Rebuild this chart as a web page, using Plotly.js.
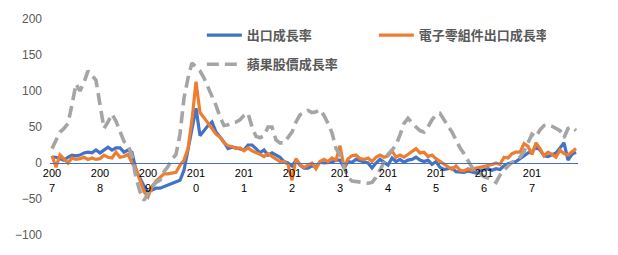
<!DOCTYPE html>
<html>
<head>
<meta charset="utf-8">
<script src="https://cdn.plot.ly/plotly-3.0.1.min.js"></script>
<style>html,body{margin:0;padding:0;background:#fff;}#chart{width:618px;height:255px;}</style>
</head>
<body>
<div id="chart"></div>
<script>
// Monthly series, Jan 2007 - Dec 2017 (YoY growth, %)
const exportGrowth = [
  8, 8, 6, 4, 8, 11, 10, 11, 14, 15, 14, 18,
  14, 18, 22, 18, 21, 21, 15, 18, 15, -10, -22, -32,
  -40, -38, -35, -35, -33, -30, -28, -26, -24, -10, 20, 49,
  76, 38, 45, 52, 57, 43, 36, 29, 20, 22, 21, 20,
  18, 25, 25, 20, 14, 18, 11, 14, 11, 8, 2, 0,
  -4, 4, -3, -7, -7, -4, -5, 1, 0, 1, 1, 4,
  4, -7, 2, 1, 5, 3, 1, 0, -7, 0, 5, 1,
  -3, 7, 2, 5, 1, 4, 5, 8, 4, 2, 4, -2,
  2, -6, -9, -8, -7, -12, -12, -13, -11, -12, -14, -11,
  -9, -8, -10, -8, -9, -4, -1, 0, 2, 6, 10, 14,
  16, 22, 18, 10, 9, 12, 14, 21, 28, 4, 12, 15
];
const electronicsExportGrowth = [
  10, -6, 11, 5, 0, 7, 5, 6, 8, 5, 7, 5,
  6, 11, 8, 7, 15, 8, 9, 12, 0, -8, -25, -40,
  -47, -33, -25, -20, -15, -15, -14, -13, -3, 4, 20, 60,
  113, 70, 63, 55, 48, 40, 36, 28, 24, 23, 20, 21,
  17, 21, 17, 15, 12, 9, 13, 9, 5, 2, 2, -2,
  -24, 6, -2, -6, -3, 0, -8, 2, 5, 2, 7, 4,
  24, -6, 6, 10, 11, 6, 5, 7, 2, 8, 11, 8,
  10, 17, 8, 11, 8, 12, 16, 20, 14, 15, 9, 11,
  6, 2, -2, -6, -9, -4, -10, -11, -8, -10, -7, -6,
  -5, -3, -2, 0, -2, 8, 7, 13, 15, 15, 27, 23,
  12, 28, 20, 10, 15, 12, 8, 18, 13, 11, 15, 20
];
const appleStockGrowth = [
  20, 33, 43, 48, 55, 81, 110, 100, 112, 128, 122, 115,
  81, 48, 57, 68, 58, 45, 30, 25, 10, -20, -40, -52,
  -42, -33, -27, -24, -12, -5, 5, 12, 40, 90, 118, 139,
  133, 128, 118, 105, 95, 80, 64, 52, 53, 56, 57, 60,
  66, 69, 50, 37, 35, 38, 50, 50, 32, 28, 28, 35,
  43, 57, 67, 70, 73, 70, 71, 74, 66, 55, 42, 20,
  12, -5, -20, -25, -26, -26, -28, -28, -27, -20, -10, 2,
  12, 18, 25, 39, 55, 62, 55, 50, 45, 43, 50, 60,
  67, 69, 60, 52, 43, 32, 21, 13, 3, -6, -10, -14,
  -19, -21, -23, -27, -17, -10, -4, 1, 4, 8, 16, 28,
  40, 36, 46, 52, 53, 51, 48, 45, 35, 48, 50, 45
];
const seriesNames = ['出口成長率', '電子零組件出口成長率', '蘋果股價成長率'];
const xTickText = ['200<br>7','200<br>8','200<br>9','201<br>0','201<br>1','201<br>2',
                   '201<br>3','201<br>4','201<br>5','201<br>6','201<br>7'];
const yTickVals = [-100, -50, 0, 50, 100, 150, 200];

const monthIdx = exportGrowth.map((_, i) => i);
const xTickVals = xTickText.map((_, k) => k * 12);

const traces = [
  {x: monthIdx, y: exportGrowth, name: seriesNames[0], type: 'scatter', mode: 'lines',
   line: {color: '#4472C4', width: 3.2}, legend: 'legend'},
  {x: monthIdx, y: electronicsExportGrowth, name: seriesNames[1], type: 'scatter', mode: 'lines',
   line: {color: '#ED7D31', width: 3.2}, legend: 'legend'},
  {x: monthIdx, y: appleStockGrowth, name: seriesNames[2], type: 'scatter', mode: 'lines',
   line: {color: '#A5A5A5', width: 3.6, dash: '12px,6px'}, legend: 'legend2'}
];

const legendFont = {family: '"Noto Sans CJK TC", "Noto Sans", sans-serif', size: 13, color: '#595959', weight: 'bold'};

const layout = {
  width: 618, height: 255,
  margin: {l: 50, r: 40, t: 19, b: 20, pad: 0},
  paper_bgcolor: '#fff', plot_bgcolor: '#fff',
  showlegend: true,
  xaxis: {
    range: [-0.5, 131.5], anchor: 'free', position: 1/3,
    showline: true, linecolor: '#4472C4', linewidth: 1,
    showgrid: false, zeroline: false, ticks: '',
    tickmode: 'array', tickvals: xTickVals, ticktext: xTickText,
    tickfont: {family: '"Liberation Sans", Arial, sans-serif', size: 11, color: '#000'},
    tickangle: 0
  },
  yaxis: {
    range: [-100, 200], showline: false, showgrid: false, zeroline: false,
    ticks: '', tickmode: 'array', tickvals: yTickVals,
    ticklabelstandoff: 7,
    tickfont: {family: '"Liberation Sans", Arial, sans-serif', size: 12, color: '#595959'}
  },
  legend: {
    x: 0.2876, y: 0.995, xanchor: 'left', yanchor: 'top', orientation: 'h',
    entrywidth: 122, font: legendFont, bgcolor: 'rgba(0,0,0,0)', itemwidth: 35
  },
  legend2: {
    x: 0.2876, y: 0.86, xanchor: 'left', yanchor: 'top', orientation: 'h',
    font: legendFont, bgcolor: 'rgba(0,0,0,0)', itemwidth: 35
  }
};

Plotly.newPlot('chart', traces, layout, {displayModeBar: false, staticPlot: true});
</script>
</body>
</html>
